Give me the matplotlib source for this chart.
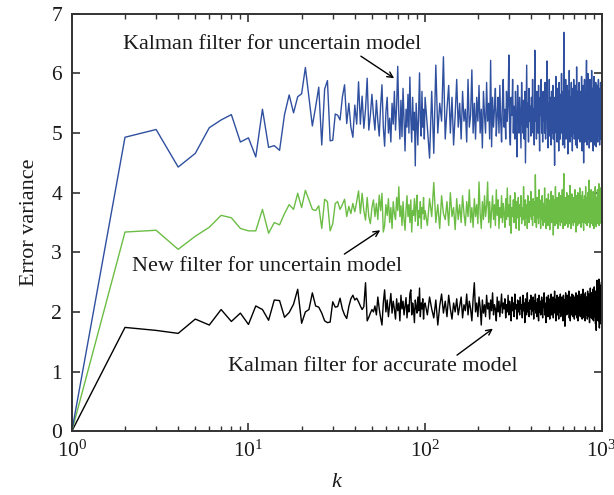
import numpy as np
import matplotlib
matplotlib.use("Agg")
import matplotlib.pyplot as plt
from matplotlib.ticker import LogLocator, NullFormatter, FixedLocator

# ---------------- data ----------------
k_early = list(range(1, 100))            # k = 1 .. 99
k_late = list(range(100, 1001, 3))       # k = 100 .. 1000 (every 3rd step read)

blue_early = [
    0.00, 4.93, 5.06, 4.43, 4.66, 5.09, 5.22, 5.31, 4.85, 4.92,
    4.60, 5.40, 4.76, 4.79, 4.71, 5.31, 5.64, 5.34, 5.61, 5.66,
    6.10, 5.60, 5.12, 5.44, 5.77, 4.80, 5.74, 5.88, 4.87, 4.88,
    5.32, 5.30, 5.22, 5.60, 5.81, 5.16, 5.50, 5.10, 4.93, 5.47,
    5.15, 5.86, 5.15, 5.62, 5.08, 5.40, 5.92, 5.05, 5.30, 5.65,
    5.31, 5.05, 5.55, 5.20, 4.95, 5.45, 5.81, 5.10, 4.78, 5.35,
    5.60, 5.00, 5.25, 4.85, 5.50, 5.15, 5.70, 5.05, 5.45, 6.12,
    5.30, 4.90, 5.55, 4.94, 5.75, 5.20, 4.70, 5.40, 5.10, 5.65,
    5.00, 5.94, 5.25, 4.85, 5.60, 5.05, 5.35, 4.45, 5.50, 5.15,
    4.80, 5.45, 6.01, 5.20, 4.95, 5.70, 5.10, 5.40, 4.90,
]
blue_late = [
    5.6, 5.1, 4.58, 5.7, 4.66, 6.14, 5.0, 5.5, 5.2, 6.28, 4.9, 5.4, 5.8, 5.0, 5.6, 4.80, 5.3, 5.9, 5.1, 5.5,
    4.9, 5.7, 5.2, 5.4, 4.85, 5.9, 5.1, 5.3, 6.06, 5.0, 5.5, 4.9, 5.6, 5.2, 5.8, 5.0, 5.4, 4.75, 5.7, 5.3,
    5.0, 5.85, 5.2, 5.5, 4.9, 6.22, 4.77, 5.6, 5.1, 5.4, 5.75, 4.95, 5.3, 5.6, 5.0, 5.8, 5.2, 4.85, 5.5, 5.9,
    5.1, 5.4, 4.9, 5.7, 5.2, 5.5, 6.31, 5.0, 4.8, 5.6, 5.3, 5.9, 5.0, 5.45, 4.9, 5.7, 5.2, 4.60, 5.8, 5.3,
    5.0, 5.6, 5.15, 4.75, 5.85, 5.3, 5.0, 5.55, 4.9, 5.7, 4.50, 5.4, 6.14, 5.1, 5.5, 4.85, 5.75, 5.2, 5.45, 4.95,
    5.6, 5.1, 5.9, 5.0, 5.4, 4.8, 6.39, 5.2, 5.5, 4.9, 5.7, 5.3, 5.0, 5.8, 5.15, 4.7, 5.6, 5.3, 5.9, 5.0,
    5.45, 4.85, 5.7, 5.2, 5.5, 5.0, 5.85, 4.9, 5.4, 5.6, 6.21, 5.1, 4.75, 5.5, 5.3, 5.9, 4.95, 5.6, 5.2, 4.8,
    5.7, 5.25, 5.0, 5.8, 4.9, 5.5, 5.1, 4.46, 5.6, 5.3, 5.95, 5.0, 5.4, 4.85, 5.75, 5.2, 5.5, 4.7, 5.85, 5.1,
    5.4, 4.9, 5.65, 5.2, 6.0, 5.0, 5.45, 4.8, 5.7, 5.3, 6.69, 5.1, 4.75, 5.55, 5.2, 5.9, 4.9, 5.6, 5.0, 5.8,
    5.15, 4.65, 5.7, 5.3, 5.0, 6.05, 5.2, 4.85, 5.6, 5.4, 4.95, 5.85, 5.1, 5.5, 4.7, 5.75, 5.25, 5.0, 5.9, 5.3,
    4.9, 5.6, 5.15, 5.8, 4.8, 5.4, 5.0, 6.11, 5.2, 4.75, 5.7, 5.3, 5.0, 5.55, 4.9, 5.85, 5.1, 5.45, 4.85, 5.7,
    5.2, 5.5, 4.9, 5.95, 5.1, 4.7, 5.6, 5.3, 5.8, 5.0, 4.50, 5.5, 5.2, 5.9, 4.85, 5.4, 5.65, 5.0, 5.3, 5.75,
    6.22, 5.1, 4.8, 5.6, 5.3, 6.0, 4.9, 5.45, 5.2, 5.8, 4.75, 5.55, 5.1, 5.9, 5.0, 5.4, 4.85, 5.7, 5.25, 6.05,
    5.0, 5.5, 4.9, 5.75, 5.2, 4.7, 5.6, 5.35, 5.95, 5.0, 4.8, 5.65, 5.2, 5.5, 4.9, 5.85, 5.3, 4.77, 5.6, 5.1,
    5.8, 5.0, 5.45, 4.85, 5.7, 5.2, 5.9, 4.95, 5.5, 5.1, 5.75, 4.8, 5.4, 5.6, 5.0, 5.85, 5.2, 4.9, 5.55, 5.3,
    5.1,
]

green_early = [
    0.00, 3.34, 3.37, 3.05, 3.27, 3.42, 3.62, 3.58, 3.40, 3.36,
    3.36, 3.72, 3.32, 3.50, 3.46, 3.65, 3.80, 3.72, 3.99, 3.75,
    4.04, 3.88, 3.72, 3.70, 3.78, 3.40, 3.89, 3.85, 3.36, 3.48,
    3.82, 3.85, 3.72, 3.80, 3.89, 3.60, 3.77, 3.65, 3.82, 3.68,
    3.85, 4.03, 3.65, 3.99, 3.70, 3.54, 3.92, 3.60, 3.48, 3.75,
    3.88, 3.60, 3.82, 3.55, 3.96, 3.70, 3.99, 3.34, 3.45, 3.80,
    3.62, 3.90, 3.50, 3.75, 3.40, 3.85, 3.65, 3.55, 3.92, 3.70,
    4.10, 3.60, 3.78, 3.45, 3.85, 3.55, 3.37, 3.72, 3.95, 3.60,
    3.80, 3.50, 3.88, 3.34, 3.70, 3.62, 3.90, 3.52, 3.78, 3.96,
    3.45, 3.70, 3.58, 3.85, 3.40, 3.75, 3.65, 3.92, 3.55,
]
green_late = [
    3.70, 3.45, 3.90, 3.60, 4.17, 3.50, 3.80, 3.40, 3.95, 3.65, 3.55, 3.85, 3.45, 4.00, 3.60, 3.75, 3.38, 3.90, 3.55, 3.80,
    3.50, 3.95, 3.65, 3.45, 3.85, 3.60, 4.05, 3.50, 3.75, 3.42, 3.90, 3.60, 3.80, 3.48, 4.18, 3.65, 3.40, 3.85, 3.55, 3.95,
    3.60, 3.78, 4.18, 3.50, 3.85, 3.41, 3.70, 3.95, 3.55, 3.80, 3.45, 4.05, 3.62, 3.88, 3.40, 3.75, 3.58, 3.95, 3.50, 3.82,
    3.65, 3.42, 3.90, 3.55, 4.08, 3.60, 3.80, 3.45, 3.95, 3.32, 3.75, 3.60, 3.88, 3.50, 4.00, 3.65, 3.40, 3.85, 3.58, 3.92,
    3.37, 3.80, 3.60, 3.95, 3.48, 3.75, 3.55, 4.10, 3.62, 3.45, 3.88, 3.58, 3.80, 3.40, 3.95, 3.65, 3.50, 3.85, 3.60, 4.02,
    3.55, 3.78, 3.45, 3.90, 3.62, 3.85, 3.50, 4.30, 3.65, 3.42, 3.92, 3.58, 3.80, 3.48, 4.05, 3.60, 3.75, 3.40, 3.88, 3.55,
    3.95, 3.62, 3.45, 3.82, 3.58, 4.08, 3.50, 3.78, 3.40, 3.90, 3.60, 3.85, 3.45, 3.98, 3.55, 3.75, 3.38, 3.88, 3.62, 4.02,
    3.50, 3.80, 3.58, 3.95, 3.29, 3.72, 3.60, 3.88, 3.45, 4.10, 3.55, 3.82, 3.48, 3.92, 3.62, 3.40, 3.85, 3.58, 4.00, 3.52,
    3.78, 3.45, 3.95, 3.60, 3.85, 3.50, 4.05, 3.62, 3.40, 3.90, 4.32, 3.55, 3.78, 3.45, 3.92, 3.60, 3.82, 3.48, 4.00, 3.58,
    3.85, 3.42, 3.75, 3.95, 3.55, 3.80, 3.48, 4.12, 3.62, 3.88, 3.40, 3.78, 3.58, 3.98, 3.50, 3.85, 3.62, 3.45, 3.92, 3.60,
    3.80, 3.50, 4.05, 3.58, 3.85, 3.34, 3.75, 3.95, 3.55, 3.82, 3.45, 4.00, 3.62, 3.78, 3.48, 3.90, 3.58, 4.08, 3.52, 3.85,
    3.60, 3.42, 3.95, 3.65, 3.80, 3.50, 4.02, 3.58, 3.88, 3.45, 3.37, 3.78, 3.62, 3.95, 3.50, 3.85, 3.58, 4.10, 3.48, 3.80,
    3.62, 3.92, 3.45, 3.85, 3.58, 4.00, 3.50, 3.80, 3.65, 4.21, 3.55, 3.88, 3.42, 3.95, 3.60, 3.78, 3.48, 4.05, 3.58, 3.85,
    3.50, 3.90, 3.62, 3.80, 3.45, 4.02, 3.58, 3.88, 3.40, 3.95, 3.62, 3.78, 3.50, 4.10, 3.55, 3.85, 3.60, 3.43, 3.92, 3.65,
    3.82, 3.48, 4.05, 3.58, 3.90, 3.52, 3.80, 3.62, 4.15, 3.45, 3.85, 3.58, 3.95, 3.50, 3.78, 4.08, 3.60, 3.88, 3.48, 3.82,
    3.70,
]

black_early = [
    0.00, 1.74, 1.69, 1.64, 1.88, 1.78, 2.04, 1.84, 1.98, 1.79,
    2.10, 2.04, 1.86, 2.20, 2.19, 1.91, 1.99, 2.13, 2.38, 1.81,
    2.00, 2.04, 2.32, 2.10, 2.08, 1.98, 1.85, 1.82, 1.83, 2.17,
    2.08, 2.09, 2.23, 2.05, 1.95, 1.89, 2.09, 2.22, 2.28, 2.20,
    2.23, 2.17, 2.10, 2.04, 2.09, 2.49, 1.85, 1.91, 1.98, 2.04,
    2.00, 2.10, 1.95, 2.25, 2.05, 1.90, 1.78, 2.15, 2.37, 2.00,
    2.20, 1.92, 2.12, 2.31, 1.98, 2.18, 2.05, 1.88, 2.22, 2.02,
    2.15, 1.85, 2.28, 2.05, 2.18, 1.95, 2.10, 2.24, 1.90, 2.12,
    2.00, 2.30, 2.37, 1.95, 2.15, 2.05, 1.82, 2.20, 2.08, 1.98,
    2.25, 2.02, 2.40, 1.92, 2.15, 2.05, 2.22, 1.88, 2.12,
]
black_late = [
    2.15, 1.95, 2.25, 2.05, 1.90, 2.20, 1.78, 2.10, 2.30, 1.98, 2.18, 1.92, 2.28, 2.05, 1.88, 2.15, 2.00, 2.22, 1.95, 2.10,
    2.25, 1.90, 2.12, 2.02, 2.30, 1.95, 2.18, 2.05, 1.85, 2.22, 2.49, 2.00, 2.15, 1.92, 2.25, 2.08, 1.78, 2.20, 1.98, 2.12,
    1.92, 2.28, 2.05, 2.15, 1.88, 2.20, 2.02, 2.32, 1.95, 2.12, 2.05, 1.85, 2.25, 2.00, 2.18, 1.92, 2.10, 2.30, 1.98, 2.15,
    2.05, 2.22, 1.90, 2.12, 2.00, 2.28, 1.95, 2.18, 2.08, 1.85, 2.25, 2.02, 2.15, 1.92, 2.30, 2.05, 2.12, 1.88, 2.20, 2.00,
    2.18, 1.95, 2.25, 2.05, 2.12, 1.90, 2.28, 2.02, 2.15, 1.82, 2.22, 2.08, 1.95, 2.32, 2.00, 2.15, 1.92, 2.20, 2.05, 2.28,
    1.95, 2.12, 2.02, 2.25, 1.88, 2.18, 2.05, 2.30, 1.98, 2.15, 1.92, 2.22, 2.08, 1.85, 2.28, 2.00, 2.18, 1.95, 2.12, 2.25,
    2.02, 1.90, 2.20, 2.08, 2.32, 1.95, 2.15, 2.05, 1.82, 2.25, 2.00, 2.18, 1.92, 2.28, 2.05, 2.12, 1.88, 2.22, 2.02, 2.30,
    1.95, 2.15, 2.05, 2.25, 1.90, 2.18, 2.08, 2.35, 1.98, 2.12, 1.85, 2.22, 2.02, 2.28, 1.95, 2.15, 2.05, 1.88, 2.25, 2.10,
    2.00, 2.30, 1.92, 2.18, 2.05, 2.25, 1.95, 2.12, 1.85, 2.28, 2.02, 2.20, 1.90, 1.76, 2.15, 2.32, 2.00, 2.22, 1.95, 2.12,
    2.28, 1.98, 2.15, 2.05, 2.35, 1.90, 2.20, 2.08, 1.85, 2.25, 2.02, 2.18, 1.95, 2.30, 2.05, 2.12, 1.92, 2.28, 2.00, 2.18,
    1.88, 2.25, 2.05, 2.15, 1.95, 2.32, 2.02, 2.20, 1.90, 2.28, 2.08, 1.85, 2.22, 2.00, 2.35, 1.95, 2.15, 2.05, 2.25, 1.92,
    2.18, 2.02, 2.30, 1.95, 2.12, 1.88, 2.25, 2.05, 2.38, 1.98, 2.15, 1.90, 2.28, 2.02, 2.20, 1.85, 2.32, 2.05, 2.15, 1.95,
    2.25, 2.00, 2.18, 1.88, 2.35, 2.05, 2.22, 1.92, 2.30, 2.02, 2.15, 1.82, 2.28, 2.05, 2.40, 1.95, 2.20, 2.08, 1.90, 2.32,
    2.02, 2.25, 1.88, 2.38, 2.05, 2.18, 1.85, 2.30, 2.00, 2.42, 1.92, 2.22, 2.05, 2.35, 1.80, 2.28, 2.02, 1.69, 2.20, 2.45,
    2.53, 1.95, 2.30, 2.05, 2.40, 1.85, 2.25, 2.00, 2.55, 1.90, 1.73, 2.35, 2.05, 2.45, 1.88, 2.28, 1.80, 2.42, 2.00, 2.50,
    2.10,
]

labels = ["Kalman filter for uncertain model",
          "New filter for uncertain model",
          "Kalman filter for accurate model"]

for arr in (blue_early, green_early, black_early):
    assert len(arr) == len(k_early), len(arr)
for arr in (blue_late, green_late, black_late):
    assert len(arr) == len(k_late), len(arr)

# ---------------- style ----------------
SERIF = "Liberation Serif"
plt.rcParams["font.family"] = [SERIF, "DejaVu Serif"]
plt.rcParams["mathtext.fontset"] = "custom"
plt.rcParams["mathtext.rm"] = SERIF
plt.rcParams["mathtext.it"] = SERIF + ":italic"

FS_TXT = 15.9
FS_TICK = 15.5
BLUE = "#2f4f9f"
GREEN = "#6cbd45"
BLACK = "#000000"
AXC = "#333333"
TXC = "#1a1a1a"

fig = plt.figure(figsize=(6.14, 4.95), dpi=100)
ax = fig.add_axes([0.117, 0.129, 0.863, 0.843])

k_all = k_early + k_late
ax.plot(k_all, black_early + black_late, color=BLACK, lw=1.0)
ax.plot(k_all, green_early + green_late, color=GREEN, lw=1.0)
ax.plot(k_all, blue_early + blue_late, color=BLUE, lw=1.0)

ax.set_xscale("log")
ax.set_xlim(1, 1000)
ax.set_ylim(0, 7)
ax.set_yticks(range(0, 8))
ax.xaxis.set_major_locator(FixedLocator([1, 10, 100, 1000]))
ax.set_xticklabels([r"$10^{0}$", r"$10^{1}$", r"$10^{2}$", r"$10^{3}$"])
ax.xaxis.set_minor_locator(LogLocator(base=10, subs=np.arange(2, 10), numticks=20))
ax.xaxis.set_minor_formatter(NullFormatter())

for s in ax.spines.values():
    s.set_color(AXC)
    s.set_linewidth(1.4)
ax.tick_params(which="both", direction="in", top=True, right=True, color=AXC,
               labelsize=FS_TICK, labelcolor=TXC)
ax.tick_params(which="major", length=6, width=1.2, pad=7)
ax.tick_params(which="minor", length=3.5, width=1.0)

ax.set_xlabel(r"$k$", fontsize=FS_TXT, labelpad=8, color=TXC)
ax.set_ylabel("Error variance", fontsize=FS_TXT, labelpad=9, color=TXC)

arrow = dict(arrowstyle="->", color="black", lw=1.0, shrinkA=0, shrinkB=0)
ax.annotate("", xy=(66.8, 5.92), xytext=(43.3, 6.29), arrowprops=arrow)
ax.annotate("", xy=(55.7, 3.37), xytext=(34.9, 2.97), arrowprops=arrow)
ax.annotate("", xy=(242, 1.72), xytext=(151.6, 1.275), arrowprops=arrow)

ax.text(10 ** ((273 - 72) / 177), (431 - 44) / 59.6, labels[0], fontsize=FS_TXT,
        ha="center", va="center", color=TXC)
ax.text(10 ** ((268 - 72) / 177), (431 - 266) / 59.6, labels[1], fontsize=FS_TXT,
        ha="center", va="center", color=TXC)
ax.text(10 ** ((374 - 72) / 177), (431 - 366) / 59.6, labels[2], fontsize=FS_TXT,
        ha="center", va="center", color=TXC)

fig.savefig("out.png", dpi=100)
